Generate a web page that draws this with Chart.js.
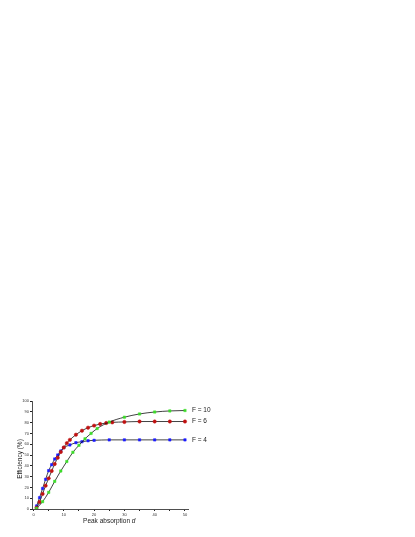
<!DOCTYPE html>
<html>
<head>
<meta charset="utf-8">
<script src="https://cdn.jsdelivr.net/npm/chart.js@4.4.0/dist/chart.umd.min.js"></script>
<style>
  body { margin: 0; background: #fff; }
  #wrap { width: 415px; height: 537px; }
</style>
</head>
<body>
<div id="wrap"><canvas id="chart" width="415" height="537"></canvas></div>
<script>
// data
const xF4 = [1, 2, 3, 4, 5, 6, 7, 8, 9, 10, 12, 14, 16, 18, 20, 25, 30, 35, 40, 45, 50];
const yF4 = [2.8, 10.5, 19, 27.5, 35.5, 41, 46.3, 50, 53.7, 56.8, 59.3, 61.4, 62.3, 63.2, 63.6, 64, 64, 64, 64, 64, 64];

const xF6 = [1, 2, 3, 4, 5, 6, 7, 8, 9, 10, 11, 12, 14, 16, 18, 20, 22, 24, 26, 30, 35, 40, 45, 50];
const yF6 = [1.2, 6.5, 14, 21.6, 28.4, 35.2, 41.7, 47.5, 52.8, 57, 61, 64, 68.8, 72.5, 75.3, 77.2, 78.7, 79.6, 80.2, 80.6, 81, 81, 81, 81];

const xF10 = [1, 3, 5, 7, 9, 11, 13, 15, 17, 19, 21, 25, 30, 35, 40, 45, 50];
const yF10 = [0.6, 6.8, 15.4, 25.6, 35.2, 44, 52.5, 59, 65, 70, 74.5, 80.5, 85, 88, 89.8, 90.8, 91.2];

const seriesLabels = ['F = 4', 'F = 6', 'F = 10'];
const xTicks = [0, 5, 10, 15, 20, 25, 30, 35, 40, 45, 50];
const yTicks = [0, 10, 20, 30, 40, 50, 60, 70, 80, 90, 100];

function pts(xs, ys) {
    return xs.map((x, i) => ({ x: x, y: ys[i] }));
}

function makeSet(label, xs, ys, color, style) {
    return {
        label: label,
        data: pts(xs, ys),
        showLine: true,
        borderColor: '#111',
        borderWidth: 0.8,
        cubicInterpolationMode: 'monotone',
        pointStyle: style,
        pointRadius: 1.7,
        pointBackgroundColor: color,
        pointBorderColor: color,
        pointBorderWidth: 0.5
    };
}

// draws axis titles and the F labels at the line ends
const textPlugin = {
    id: 'texts',
    afterDraw(chart) {
        const ctx = chart.ctx;
        const xs = chart.scales.x, ys = chart.scales.y;
        ctx.save();
        ctx.fillStyle = '#222';
        ctx.font = '6.5px "Liberation Sans", Arial, sans-serif';
        ctx.textBaseline = 'middle';
        ctx.textAlign = 'left';
        chart.data.datasets.forEach(ds => {
            const last = ds.data[ds.data.length - 1];
            ctx.fillText(ds.label, xs.getPixelForValue(last.x) + 7, ys.getPixelForValue(last.y));
        });

        // x title with italic d
        const t1 = 'Peak absorption ';
        const w1 = ctx.measureText(t1).width;
        ctx.font = 'italic 6.5px "Liberation Sans", Arial, sans-serif';
        const w2 = ctx.measureText('d').width;
        const cx = (xs.getPixelForValue(0) + xs.getPixelForValue(50)) / 2;
        const sx = cx - (w1 + w2) / 2;
        ctx.font = '6.5px "Liberation Sans", Arial, sans-serif';
        ctx.fillText(t1, sx, 521);
        ctx.font = 'italic 6.5px "Liberation Sans", Arial, sans-serif';
        ctx.fillText('d', sx + w1, 521);

        // y title
        ctx.font = '6.5px "Liberation Sans", Arial, sans-serif';
        ctx.translate(20, 459);
        ctx.rotate(-Math.PI / 2);
        ctx.textAlign = 'center';
        ctx.fillText('Efficiency (%)', 0, 0);
        ctx.restore();
    }
};

const tickFont = { family: '"Liberation Sans", Arial, sans-serif', size: 4 };

new Chart(document.getElementById('chart'), {
    type: 'scatter',
    data: {
        datasets: [
            makeSet(seriesLabels[2], xF10, yF10, '#3ddc2a', 'rect'),
            makeSet(seriesLabels[1], xF6, yF6, '#c01010', 'circle'),
            makeSet(seriesLabels[0], xF4, yF4, '#1a1aff', 'rect')
        ]
    },
    options: {
        responsive: false,
        animation: false,
        layout: { padding: { left: 0, top: 401, right: 227, bottom: 0 } },
        plugins: { legend: { display: false }, tooltip: { enabled: false } },
        scales: {
            x: {
                type: 'linear',
                min: -0.5,
                max: 51,
                afterBuildTicks: s => { s.ticks = xTicks.map(v => ({ value: v })); },
                afterFit: s => { s.height = 28; },
                grid: { drawOnChartArea: false, drawTicks: true, tickLength: 2, color: '#222' },
                border: { display: true, color: '#222', width: 0.8 },
                ticks: {
                    color: '#333', font: tickFont, padding: 1.5, maxRotation: 0, autoSkip: false,
                    callback: v => (v % 10 === 0 ? String(v) : '')
                }
            },
            y: {
                type: 'linear',
                min: 0,
                max: 100,
                afterBuildTicks: s => { s.ticks = yTicks.map(v => ({ value: v })); },
                afterFit: s => { s.width = 32; },
                grid: { drawOnChartArea: false, drawTicks: true, tickLength: 2, color: '#222' },
                border: { display: true, color: '#222', width: 0.8 },
                ticks: { color: '#333', font: tickFont, padding: 1, autoSkip: false }
            }
        }
    },
    plugins: [textPlugin]
});
</script>
</body>
</html>
